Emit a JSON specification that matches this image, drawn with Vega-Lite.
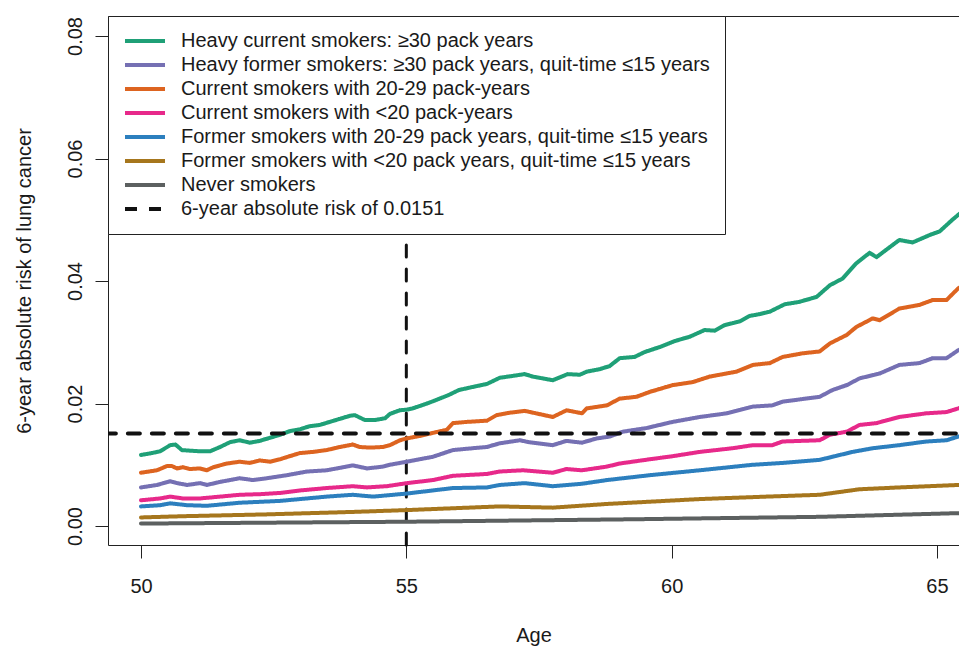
{
  "$schema": "https://vega.github.io/schema/vega-lite/v6.json",
  "width": 851,
  "height": 529,
  "autosize": {"type": "none"},
  "padding": {"left": 108, "top": 16, "right": 0, "bottom": 102},
  "background": "white",
  "config": {
    "view": {"stroke": null},
    "font": "Liberation Sans",
    "axis": {"grid": false, "domainColor": "#222222", "tickColor": "#222222", "labelColor": "#1a1a1a", "titleColor": "#1a1a1a", "labelFontSize": 20, "titleFontSize": 20, "titleFontWeight": "normal", "labelFlush": false, "tickSize": 13, "domainWidth": 1, "tickWidth": 1}
  },
  "datasets": {
    "risk": [
      {"series": "Heavy current smokers: ≥30 pack years", "age": 50.0, "risk": 0.0116},
      {"series": "Heavy current smokers: ≥30 pack years", "age": 50.2, "risk": 0.0119},
      {"series": "Heavy current smokers: ≥30 pack years", "age": 50.36, "risk": 0.0122},
      {"series": "Heavy current smokers: ≥30 pack years", "age": 50.55, "risk": 0.0132},
      {"series": "Heavy current smokers: ≥30 pack years", "age": 50.65, "risk": 0.0133},
      {"series": "Heavy current smokers: ≥30 pack years", "age": 50.77, "risk": 0.0124},
      {"series": "Heavy current smokers: ≥30 pack years", "age": 50.92, "risk": 0.0123},
      {"series": "Heavy current smokers: ≥30 pack years", "age": 51.11, "risk": 0.0122},
      {"series": "Heavy current smokers: ≥30 pack years", "age": 51.3, "risk": 0.0122},
      {"series": "Heavy current smokers: ≥30 pack years", "age": 51.49, "risk": 0.0129},
      {"series": "Heavy current smokers: ≥30 pack years", "age": 51.68, "risk": 0.0137},
      {"series": "Heavy current smokers: ≥30 pack years", "age": 51.86, "risk": 0.014},
      {"series": "Heavy current smokers: ≥30 pack years", "age": 52.05, "risk": 0.0136},
      {"series": "Heavy current smokers: ≥30 pack years", "age": 52.24, "risk": 0.0139},
      {"series": "Heavy current smokers: ≥30 pack years", "age": 52.43, "risk": 0.0144},
      {"series": "Heavy current smokers: ≥30 pack years", "age": 52.62, "risk": 0.0149},
      {"series": "Heavy current smokers: ≥30 pack years", "age": 52.81, "risk": 0.0155},
      {"series": "Heavy current smokers: ≥30 pack years", "age": 53.0, "risk": 0.0158},
      {"series": "Heavy current smokers: ≥30 pack years", "age": 53.18, "risk": 0.0163},
      {"series": "Heavy current smokers: ≥30 pack years", "age": 53.37, "risk": 0.0165},
      {"series": "Heavy current smokers: ≥30 pack years", "age": 53.56, "risk": 0.017},
      {"series": "Heavy current smokers: ≥30 pack years", "age": 53.75, "risk": 0.0175},
      {"series": "Heavy current smokers: ≥30 pack years", "age": 53.94, "risk": 0.018},
      {"series": "Heavy current smokers: ≥30 pack years", "age": 54.03, "risk": 0.0181},
      {"series": "Heavy current smokers: ≥30 pack years", "age": 54.22, "risk": 0.0173},
      {"series": "Heavy current smokers: ≥30 pack years", "age": 54.41, "risk": 0.0173},
      {"series": "Heavy current smokers: ≥30 pack years", "age": 54.6, "risk": 0.0176},
      {"series": "Heavy current smokers: ≥30 pack years", "age": 54.69, "risk": 0.0183},
      {"series": "Heavy current smokers: ≥30 pack years", "age": 54.88, "risk": 0.0189},
      {"series": "Heavy current smokers: ≥30 pack years", "age": 55.01, "risk": 0.019},
      {"series": "Heavy current smokers: ≥30 pack years", "age": 55.12, "risk": 0.0192},
      {"series": "Heavy current smokers: ≥30 pack years", "age": 55.39, "risk": 0.02},
      {"series": "Heavy current smokers: ≥30 pack years", "age": 55.57, "risk": 0.0206},
      {"series": "Heavy current smokers: ≥30 pack years", "age": 55.8, "risk": 0.0214},
      {"series": "Heavy current smokers: ≥30 pack years", "age": 55.99, "risk": 0.0222},
      {"series": "Heavy current smokers: ≥30 pack years", "age": 56.25, "risk": 0.0227},
      {"series": "Heavy current smokers: ≥30 pack years", "age": 56.52, "risk": 0.0232},
      {"series": "Heavy current smokers: ≥30 pack years", "age": 56.76, "risk": 0.0242},
      {"series": "Heavy current smokers: ≥30 pack years", "age": 57.0, "risk": 0.0245},
      {"series": "Heavy current smokers: ≥30 pack years", "age": 57.23, "risk": 0.0248},
      {"series": "Heavy current smokers: ≥30 pack years", "age": 57.38, "risk": 0.0244},
      {"series": "Heavy current smokers: ≥30 pack years", "age": 57.76, "risk": 0.0238},
      {"series": "Heavy current smokers: ≥30 pack years", "age": 58.04, "risk": 0.0248},
      {"series": "Heavy current smokers: ≥30 pack years", "age": 58.27, "risk": 0.0247},
      {"series": "Heavy current smokers: ≥30 pack years", "age": 58.4, "risk": 0.0252},
      {"series": "Heavy current smokers: ≥30 pack years", "age": 58.64, "risk": 0.0256},
      {"series": "Heavy current smokers: ≥30 pack years", "age": 58.83, "risk": 0.0261},
      {"series": "Heavy current smokers: ≥30 pack years", "age": 59.02, "risk": 0.0274},
      {"series": "Heavy current smokers: ≥30 pack years", "age": 59.3, "risk": 0.0276},
      {"series": "Heavy current smokers: ≥30 pack years", "age": 59.49, "risk": 0.0284},
      {"series": "Heavy current smokers: ≥30 pack years", "age": 59.77, "risk": 0.0292},
      {"series": "Heavy current smokers: ≥30 pack years", "age": 60.06, "risk": 0.0302},
      {"series": "Heavy current smokers: ≥30 pack years", "age": 60.34, "risk": 0.0309},
      {"series": "Heavy current smokers: ≥30 pack years", "age": 60.62, "risk": 0.032},
      {"series": "Heavy current smokers: ≥30 pack years", "age": 60.81, "risk": 0.0319},
      {"series": "Heavy current smokers: ≥30 pack years", "age": 61.0, "risk": 0.0328},
      {"series": "Heavy current smokers: ≥30 pack years", "age": 61.28, "risk": 0.0334},
      {"series": "Heavy current smokers: ≥30 pack years", "age": 61.47, "risk": 0.0343},
      {"series": "Heavy current smokers: ≥30 pack years", "age": 61.66, "risk": 0.0346},
      {"series": "Heavy current smokers: ≥30 pack years", "age": 61.85, "risk": 0.035},
      {"series": "Heavy current smokers: ≥30 pack years", "age": 62.13, "risk": 0.0362},
      {"series": "Heavy current smokers: ≥30 pack years", "age": 62.41, "risk": 0.0366},
      {"series": "Heavy current smokers: ≥30 pack years", "age": 62.73, "risk": 0.0374},
      {"series": "Heavy current smokers: ≥30 pack years", "age": 62.98, "risk": 0.0393},
      {"series": "Heavy current smokers: ≥30 pack years", "age": 63.22, "risk": 0.0404},
      {"series": "Heavy current smokers: ≥30 pack years", "age": 63.48, "risk": 0.0429},
      {"series": "Heavy current smokers: ≥30 pack years", "age": 63.73, "risk": 0.0446},
      {"series": "Heavy current smokers: ≥30 pack years", "age": 63.86, "risk": 0.0439},
      {"series": "Heavy current smokers: ≥30 pack years", "age": 64.29, "risk": 0.0467},
      {"series": "Heavy current smokers: ≥30 pack years", "age": 64.54, "risk": 0.0463},
      {"series": "Heavy current smokers: ≥30 pack years", "age": 64.86, "risk": 0.0475},
      {"series": "Heavy current smokers: ≥30 pack years", "age": 65.05, "risk": 0.0481},
      {"series": "Heavy current smokers: ≥30 pack years", "age": 65.29, "risk": 0.05},
      {"series": "Heavy current smokers: ≥30 pack years", "age": 65.4, "risk": 0.0508},
      {"series": "Heavy current smokers: ≥30 pack years", "age": 65.5, "risk": 0.0515},

      {"series": "Heavy former smokers: ≥30 pack years, quit-time ≤15 years", "age": 50.0, "risk": 0.0063},
      {"series": "Heavy former smokers: ≥30 pack years, quit-time ≤15 years", "age": 50.3, "risk": 0.0067},
      {"series": "Heavy former smokers: ≥30 pack years, quit-time ≤15 years", "age": 50.55, "risk": 0.0073},
      {"series": "Heavy former smokers: ≥30 pack years, quit-time ≤15 years", "age": 50.68, "risk": 0.007},
      {"series": "Heavy former smokers: ≥30 pack years, quit-time ≤15 years", "age": 50.87, "risk": 0.0067},
      {"series": "Heavy former smokers: ≥30 pack years, quit-time ≤15 years", "age": 51.11, "risk": 0.007},
      {"series": "Heavy former smokers: ≥30 pack years, quit-time ≤15 years", "age": 51.24, "risk": 0.0067},
      {"series": "Heavy former smokers: ≥30 pack years, quit-time ≤15 years", "age": 51.49, "risk": 0.0072},
      {"series": "Heavy former smokers: ≥30 pack years, quit-time ≤15 years", "age": 51.86, "risk": 0.0078},
      {"series": "Heavy former smokers: ≥30 pack years, quit-time ≤15 years", "age": 52.11, "risk": 0.0075},
      {"series": "Heavy former smokers: ≥30 pack years, quit-time ≤15 years", "age": 52.37, "risk": 0.0078},
      {"series": "Heavy former smokers: ≥30 pack years, quit-time ≤15 years", "age": 52.75, "risk": 0.0083},
      {"series": "Heavy former smokers: ≥30 pack years, quit-time ≤15 years", "age": 53.13, "risk": 0.0089},
      {"series": "Heavy former smokers: ≥30 pack years, quit-time ≤15 years", "age": 53.5, "risk": 0.0091},
      {"series": "Heavy former smokers: ≥30 pack years, quit-time ≤15 years", "age": 53.75, "risk": 0.0095},
      {"series": "Heavy former smokers: ≥30 pack years, quit-time ≤15 years", "age": 53.99, "risk": 0.0099},
      {"series": "Heavy former smokers: ≥30 pack years, quit-time ≤15 years", "age": 54.26, "risk": 0.0094},
      {"series": "Heavy former smokers: ≥30 pack years, quit-time ≤15 years", "age": 54.56, "risk": 0.0097},
      {"series": "Heavy former smokers: ≥30 pack years, quit-time ≤15 years", "age": 54.69, "risk": 0.01},
      {"series": "Heavy former smokers: ≥30 pack years, quit-time ≤15 years", "age": 55.01, "risk": 0.0105},
      {"series": "Heavy former smokers: ≥30 pack years, quit-time ≤15 years", "age": 55.25, "risk": 0.0109},
      {"series": "Heavy former smokers: ≥30 pack years, quit-time ≤15 years", "age": 55.5, "risk": 0.0113},
      {"series": "Heavy former smokers: ≥30 pack years, quit-time ≤15 years", "age": 55.88, "risk": 0.0124},
      {"series": "Heavy former smokers: ≥30 pack years, quit-time ≤15 years", "age": 56.25, "risk": 0.0127},
      {"series": "Heavy former smokers: ≥30 pack years, quit-time ≤15 years", "age": 56.52, "risk": 0.0129},
      {"series": "Heavy former smokers: ≥30 pack years, quit-time ≤15 years", "age": 56.76, "risk": 0.0135},
      {"series": "Heavy former smokers: ≥30 pack years, quit-time ≤15 years", "age": 57.14, "risk": 0.014},
      {"series": "Heavy former smokers: ≥30 pack years, quit-time ≤15 years", "age": 57.3, "risk": 0.0137},
      {"series": "Heavy former smokers: ≥30 pack years, quit-time ≤15 years", "age": 57.76, "risk": 0.0132},
      {"series": "Heavy former smokers: ≥30 pack years, quit-time ≤15 years", "age": 58.02, "risk": 0.0139},
      {"series": "Heavy former smokers: ≥30 pack years, quit-time ≤15 years", "age": 58.31, "risk": 0.0136},
      {"series": "Heavy former smokers: ≥30 pack years, quit-time ≤15 years", "age": 58.59, "risk": 0.0143},
      {"series": "Heavy former smokers: ≥30 pack years, quit-time ≤15 years", "age": 58.83, "risk": 0.0146},
      {"series": "Heavy former smokers: ≥30 pack years, quit-time ≤15 years", "age": 59.08, "risk": 0.0154},
      {"series": "Heavy former smokers: ≥30 pack years, quit-time ≤15 years", "age": 59.53, "risk": 0.016},
      {"series": "Heavy former smokers: ≥30 pack years, quit-time ≤15 years", "age": 60.02, "risk": 0.017},
      {"series": "Heavy former smokers: ≥30 pack years, quit-time ≤15 years", "age": 60.53, "risk": 0.0178},
      {"series": "Heavy former smokers: ≥30 pack years, quit-time ≤15 years", "age": 61.04, "risk": 0.0184},
      {"series": "Heavy former smokers: ≥30 pack years, quit-time ≤15 years", "age": 61.53, "risk": 0.0195},
      {"series": "Heavy former smokers: ≥30 pack years, quit-time ≤15 years", "age": 61.9, "risk": 0.0197},
      {"series": "Heavy former smokers: ≥30 pack years, quit-time ≤15 years", "age": 62.09, "risk": 0.0203},
      {"series": "Heavy former smokers: ≥30 pack years, quit-time ≤15 years", "age": 62.79, "risk": 0.0211},
      {"series": "Heavy former smokers: ≥30 pack years, quit-time ≤15 years", "age": 63.03, "risk": 0.0222},
      {"series": "Heavy former smokers: ≥30 pack years, quit-time ≤15 years", "age": 63.3, "risk": 0.023},
      {"series": "Heavy former smokers: ≥30 pack years, quit-time ≤15 years", "age": 63.54, "risk": 0.0241},
      {"series": "Heavy former smokers: ≥30 pack years, quit-time ≤15 years", "age": 63.92, "risk": 0.0249},
      {"series": "Heavy former smokers: ≥30 pack years, quit-time ≤15 years", "age": 64.29, "risk": 0.0263},
      {"series": "Heavy former smokers: ≥30 pack years, quit-time ≤15 years", "age": 64.67, "risk": 0.0266},
      {"series": "Heavy former smokers: ≥30 pack years, quit-time ≤15 years", "age": 64.92, "risk": 0.0274},
      {"series": "Heavy former smokers: ≥30 pack years, quit-time ≤15 years", "age": 65.18, "risk": 0.0274},
      {"series": "Heavy former smokers: ≥30 pack years, quit-time ≤15 years", "age": 65.4, "risk": 0.0287},
      {"series": "Heavy former smokers: ≥30 pack years, quit-time ≤15 years", "age": 65.5, "risk": 0.0291},

      {"series": "Current smokers with 20-29 pack-years", "age": 50.0, "risk": 0.0087},
      {"series": "Current smokers with 20-29 pack-years", "age": 50.3, "risk": 0.0091},
      {"series": "Current smokers with 20-29 pack-years", "age": 50.49, "risk": 0.0098},
      {"series": "Current smokers with 20-29 pack-years", "age": 50.58, "risk": 0.0098},
      {"series": "Current smokers with 20-29 pack-years", "age": 50.68, "risk": 0.0094},
      {"series": "Current smokers with 20-29 pack-years", "age": 50.79, "risk": 0.0096},
      {"series": "Current smokers with 20-29 pack-years", "age": 50.92, "risk": 0.0093},
      {"series": "Current smokers with 20-29 pack-years", "age": 51.11, "risk": 0.0094},
      {"series": "Current smokers with 20-29 pack-years", "age": 51.24, "risk": 0.0091},
      {"series": "Current smokers with 20-29 pack-years", "age": 51.36, "risk": 0.0096},
      {"series": "Current smokers with 20-29 pack-years", "age": 51.62, "risk": 0.0102},
      {"series": "Current smokers with 20-29 pack-years", "age": 51.86, "risk": 0.0105},
      {"series": "Current smokers with 20-29 pack-years", "age": 52.05, "risk": 0.0103},
      {"series": "Current smokers with 20-29 pack-years", "age": 52.24, "risk": 0.0107},
      {"series": "Current smokers with 20-29 pack-years", "age": 52.43, "risk": 0.0105},
      {"series": "Current smokers with 20-29 pack-years", "age": 52.62, "risk": 0.0109},
      {"series": "Current smokers with 20-29 pack-years", "age": 52.99, "risk": 0.0119},
      {"series": "Current smokers with 20-29 pack-years", "age": 53.24, "risk": 0.0121},
      {"series": "Current smokers with 20-29 pack-years", "age": 53.5, "risk": 0.0124},
      {"series": "Current smokers with 20-29 pack-years", "age": 53.75, "risk": 0.0129},
      {"series": "Current smokers with 20-29 pack-years", "age": 53.99, "risk": 0.0133},
      {"series": "Current smokers with 20-29 pack-years", "age": 54.12, "risk": 0.0129},
      {"series": "Current smokers with 20-29 pack-years", "age": 54.31, "risk": 0.0128},
      {"series": "Current smokers with 20-29 pack-years", "age": 54.56, "risk": 0.0129},
      {"series": "Current smokers with 20-29 pack-years", "age": 54.69, "risk": 0.0132},
      {"series": "Current smokers with 20-29 pack-years", "age": 54.88, "risk": 0.014},
      {"series": "Current smokers with 20-29 pack-years", "age": 55.01, "risk": 0.0143},
      {"series": "Current smokers with 20-29 pack-years", "age": 55.25, "risk": 0.0147},
      {"series": "Current smokers with 20-29 pack-years", "age": 55.5, "risk": 0.0152},
      {"series": "Current smokers with 20-29 pack-years", "age": 55.76, "risk": 0.0157},
      {"series": "Current smokers with 20-29 pack-years", "age": 55.88, "risk": 0.0168},
      {"series": "Current smokers with 20-29 pack-years", "age": 56.14, "risk": 0.017},
      {"series": "Current smokers with 20-29 pack-years", "age": 56.52, "risk": 0.0172},
      {"series": "Current smokers with 20-29 pack-years", "age": 56.7, "risk": 0.0181},
      {"series": "Current smokers with 20-29 pack-years", "age": 56.95, "risk": 0.0185},
      {"series": "Current smokers with 20-29 pack-years", "age": 57.23, "risk": 0.0188},
      {"series": "Current smokers with 20-29 pack-years", "age": 57.76, "risk": 0.0178},
      {"series": "Current smokers with 20-29 pack-years", "age": 58.02, "risk": 0.0189},
      {"series": "Current smokers with 20-29 pack-years", "age": 58.31, "risk": 0.0184},
      {"series": "Current smokers with 20-29 pack-years", "age": 58.4, "risk": 0.0192},
      {"series": "Current smokers with 20-29 pack-years", "age": 58.78, "risk": 0.0197},
      {"series": "Current smokers with 20-29 pack-years", "age": 59.02, "risk": 0.0208},
      {"series": "Current smokers with 20-29 pack-years", "age": 59.34, "risk": 0.0211},
      {"series": "Current smokers with 20-29 pack-years", "age": 59.59, "risk": 0.0219},
      {"series": "Current smokers with 20-29 pack-years", "age": 60.02, "risk": 0.023},
      {"series": "Current smokers with 20-29 pack-years", "age": 60.4, "risk": 0.0235},
      {"series": "Current smokers with 20-29 pack-years", "age": 60.72, "risk": 0.0244},
      {"series": "Current smokers with 20-29 pack-years", "age": 61.22, "risk": 0.0252},
      {"series": "Current smokers with 20-29 pack-years", "age": 61.53, "risk": 0.0263},
      {"series": "Current smokers with 20-29 pack-years", "age": 61.85, "risk": 0.0266},
      {"series": "Current smokers with 20-29 pack-years", "age": 62.09, "risk": 0.0276},
      {"series": "Current smokers with 20-29 pack-years", "age": 62.47, "risk": 0.0282},
      {"series": "Current smokers with 20-29 pack-years", "age": 62.79, "risk": 0.0285},
      {"series": "Current smokers with 20-29 pack-years", "age": 62.98, "risk": 0.0298},
      {"series": "Current smokers with 20-29 pack-years", "age": 63.3, "risk": 0.0312},
      {"series": "Current smokers with 20-29 pack-years", "age": 63.48, "risk": 0.0325},
      {"series": "Current smokers with 20-29 pack-years", "age": 63.79, "risk": 0.0339},
      {"series": "Current smokers with 20-29 pack-years", "age": 63.92, "risk": 0.0336},
      {"series": "Current smokers with 20-29 pack-years", "age": 64.29, "risk": 0.0355},
      {"series": "Current smokers with 20-29 pack-years", "age": 64.67, "risk": 0.0361},
      {"series": "Current smokers with 20-29 pack-years", "age": 64.92, "risk": 0.0369},
      {"series": "Current smokers with 20-29 pack-years", "age": 65.18, "risk": 0.0369},
      {"series": "Current smokers with 20-29 pack-years", "age": 65.4, "risk": 0.0388},
      {"series": "Current smokers with 20-29 pack-years", "age": 65.5, "risk": 0.0393},

      {"series": "Current smokers with <20 pack-years", "age": 50.0, "risk": 0.0042},
      {"series": "Current smokers with <20 pack-years", "age": 50.36, "risk": 0.0045},
      {"series": "Current smokers with <20 pack-years", "age": 50.55, "risk": 0.0048},
      {"series": "Current smokers with <20 pack-years", "age": 50.79, "risk": 0.0045},
      {"series": "Current smokers with <20 pack-years", "age": 51.11, "risk": 0.0045},
      {"series": "Current smokers with <20 pack-years", "age": 51.49, "risk": 0.0048},
      {"series": "Current smokers with <20 pack-years", "age": 51.86, "risk": 0.0051},
      {"series": "Current smokers with <20 pack-years", "age": 52.24, "risk": 0.0052},
      {"series": "Current smokers with <20 pack-years", "age": 52.62, "risk": 0.0054},
      {"series": "Current smokers with <20 pack-years", "age": 52.99, "risk": 0.0058},
      {"series": "Current smokers with <20 pack-years", "age": 53.5, "risk": 0.0062},
      {"series": "Current smokers with <20 pack-years", "age": 53.99, "risk": 0.0065},
      {"series": "Current smokers with <20 pack-years", "age": 54.26, "risk": 0.0063},
      {"series": "Current smokers with <20 pack-years", "age": 54.63, "risk": 0.0065},
      {"series": "Current smokers with <20 pack-years", "age": 55.01, "risk": 0.007},
      {"series": "Current smokers with <20 pack-years", "age": 55.5, "risk": 0.0075},
      {"series": "Current smokers with <20 pack-years", "age": 55.88, "risk": 0.0082},
      {"series": "Current smokers with <20 pack-years", "age": 56.52, "risk": 0.0085},
      {"series": "Current smokers with <20 pack-years", "age": 56.76, "risk": 0.0089},
      {"series": "Current smokers with <20 pack-years", "age": 57.2, "risk": 0.0091},
      {"series": "Current smokers with <20 pack-years", "age": 57.76, "risk": 0.0087},
      {"series": "Current smokers with <20 pack-years", "age": 58.02, "risk": 0.0093},
      {"series": "Current smokers with <20 pack-years", "age": 58.31, "risk": 0.0091},
      {"series": "Current smokers with <20 pack-years", "age": 58.78, "risk": 0.0097},
      {"series": "Current smokers with <20 pack-years", "age": 59.02, "risk": 0.0102},
      {"series": "Current smokers with <20 pack-years", "age": 59.59, "risk": 0.0109},
      {"series": "Current smokers with <20 pack-years", "age": 60.02, "risk": 0.0114},
      {"series": "Current smokers with <20 pack-years", "age": 60.53, "risk": 0.0121},
      {"series": "Current smokers with <20 pack-years", "age": 61.15, "risk": 0.0127},
      {"series": "Current smokers with <20 pack-years", "age": 61.53, "risk": 0.0132},
      {"series": "Current smokers with <20 pack-years", "age": 61.9, "risk": 0.0132},
      {"series": "Current smokers with <20 pack-years", "age": 62.09, "risk": 0.0138},
      {"series": "Current smokers with <20 pack-years", "age": 62.79, "risk": 0.014},
      {"series": "Current smokers with <20 pack-years", "age": 62.98, "risk": 0.0149},
      {"series": "Current smokers with <20 pack-years", "age": 63.3, "risk": 0.0154},
      {"series": "Current smokers with <20 pack-years", "age": 63.54, "risk": 0.0165},
      {"series": "Current smokers with <20 pack-years", "age": 63.86, "risk": 0.0168},
      {"series": "Current smokers with <20 pack-years", "age": 64.29, "risk": 0.0178},
      {"series": "Current smokers with <20 pack-years", "age": 64.8, "risk": 0.0184},
      {"series": "Current smokers with <20 pack-years", "age": 65.18, "risk": 0.0186},
      {"series": "Current smokers with <20 pack-years", "age": 65.4, "risk": 0.0192},
      {"series": "Current smokers with <20 pack-years", "age": 65.5, "risk": 0.0195},

      {"series": "Former smokers with 20-29 pack years, quit-time ≤15 years", "age": 50.0, "risk": 0.0032},
      {"series": "Former smokers with 20-29 pack years, quit-time ≤15 years", "age": 50.36, "risk": 0.0034},
      {"series": "Former smokers with 20-29 pack years, quit-time ≤15 years", "age": 50.55, "risk": 0.0037},
      {"series": "Former smokers with 20-29 pack years, quit-time ≤15 years", "age": 50.87, "risk": 0.0034},
      {"series": "Former smokers with 20-29 pack years, quit-time ≤15 years", "age": 51.24, "risk": 0.0033},
      {"series": "Former smokers with 20-29 pack years, quit-time ≤15 years", "age": 51.86, "risk": 0.0038},
      {"series": "Former smokers with 20-29 pack years, quit-time ≤15 years", "age": 52.62, "risk": 0.0041},
      {"series": "Former smokers with 20-29 pack years, quit-time ≤15 years", "age": 53.5, "risk": 0.0048},
      {"series": "Former smokers with 20-29 pack years, quit-time ≤15 years", "age": 53.99, "risk": 0.0051},
      {"series": "Former smokers with 20-29 pack years, quit-time ≤15 years", "age": 54.37, "risk": 0.0048},
      {"series": "Former smokers with 20-29 pack years, quit-time ≤15 years", "age": 54.63, "risk": 0.005},
      {"series": "Former smokers with 20-29 pack years, quit-time ≤15 years", "age": 55.01, "risk": 0.0053},
      {"series": "Former smokers with 20-29 pack years, quit-time ≤15 years", "age": 55.88, "risk": 0.0062},
      {"series": "Former smokers with 20-29 pack years, quit-time ≤15 years", "age": 56.52, "risk": 0.0063},
      {"series": "Former smokers with 20-29 pack years, quit-time ≤15 years", "age": 56.76, "risk": 0.0067},
      {"series": "Former smokers with 20-29 pack years, quit-time ≤15 years", "age": 57.23, "risk": 0.007},
      {"series": "Former smokers with 20-29 pack years, quit-time ≤15 years", "age": 57.76, "risk": 0.0065},
      {"series": "Former smokers with 20-29 pack years, quit-time ≤15 years", "age": 58.31, "risk": 0.0069},
      {"series": "Former smokers with 20-29 pack years, quit-time ≤15 years", "age": 58.78, "risk": 0.0075},
      {"series": "Former smokers with 20-29 pack years, quit-time ≤15 years", "age": 59.59, "risk": 0.0083},
      {"series": "Former smokers with 20-29 pack years, quit-time ≤15 years", "age": 60.53, "risk": 0.0091},
      {"series": "Former smokers with 20-29 pack years, quit-time ≤15 years", "age": 61.53, "risk": 0.01},
      {"series": "Former smokers with 20-29 pack years, quit-time ≤15 years", "age": 62.09, "risk": 0.0103},
      {"series": "Former smokers with 20-29 pack years, quit-time ≤15 years", "age": 62.79, "risk": 0.0108},
      {"series": "Former smokers with 20-29 pack years, quit-time ≤15 years", "age": 63.03, "risk": 0.0113},
      {"series": "Former smokers with 20-29 pack years, quit-time ≤15 years", "age": 63.41, "risk": 0.0121},
      {"series": "Former smokers with 20-29 pack years, quit-time ≤15 years", "age": 63.79, "risk": 0.0127},
      {"series": "Former smokers with 20-29 pack years, quit-time ≤15 years", "age": 64.29, "risk": 0.0132},
      {"series": "Former smokers with 20-29 pack years, quit-time ≤15 years", "age": 64.8, "risk": 0.0138},
      {"series": "Former smokers with 20-29 pack years, quit-time ≤15 years", "age": 65.18, "risk": 0.014},
      {"series": "Former smokers with 20-29 pack years, quit-time ≤15 years", "age": 65.4, "risk": 0.0146},
      {"series": "Former smokers with 20-29 pack years, quit-time ≤15 years", "age": 65.5, "risk": 0.0148},

      {"series": "Former smokers with <20 pack years, quit-time ≤15 years", "age": 50.0, "risk": 0.0014},
      {"series": "Former smokers with <20 pack years, quit-time ≤15 years", "age": 50.79, "risk": 0.0016},
      {"series": "Former smokers with <20 pack years, quit-time ≤15 years", "age": 52.37, "risk": 0.0019},
      {"series": "Former smokers with <20 pack years, quit-time ≤15 years", "age": 53.99, "risk": 0.0023},
      {"series": "Former smokers with <20 pack years, quit-time ≤15 years", "age": 55.01, "risk": 0.0026},
      {"series": "Former smokers with <20 pack years, quit-time ≤15 years", "age": 55.88, "risk": 0.0029},
      {"series": "Former smokers with <20 pack years, quit-time ≤15 years", "age": 56.76, "risk": 0.0032},
      {"series": "Former smokers with <20 pack years, quit-time ≤15 years", "age": 57.76, "risk": 0.003},
      {"series": "Former smokers with <20 pack years, quit-time ≤15 years", "age": 58.78, "risk": 0.0036},
      {"series": "Former smokers with <20 pack years, quit-time ≤15 years", "age": 60.53, "risk": 0.0044},
      {"series": "Former smokers with <20 pack years, quit-time ≤15 years", "age": 61.79, "risk": 0.0048},
      {"series": "Former smokers with <20 pack years, quit-time ≤15 years", "age": 62.79, "risk": 0.0051},
      {"series": "Former smokers with <20 pack years, quit-time ≤15 years", "age": 63.54, "risk": 0.006},
      {"series": "Former smokers with <20 pack years, quit-time ≤15 years", "age": 64.29, "risk": 0.0063},
      {"series": "Former smokers with <20 pack years, quit-time ≤15 years", "age": 65.4, "risk": 0.0067},
      {"series": "Former smokers with <20 pack years, quit-time ≤15 years", "age": 65.5, "risk": 0.0068},

      {"series": "Never smokers", "age": 50.0, "risk": 0.0004},
      {"series": "Never smokers", "age": 55.01, "risk": 0.0007},
      {"series": "Never smokers", "age": 57.14, "risk": 0.0009},
      {"series": "Never smokers", "age": 59.27, "risk": 0.0011},
      {"series": "Never smokers", "age": 62.79, "risk": 0.0015},
      {"series": "Never smokers", "age": 65.4, "risk": 0.0021},
      {"series": "Never smokers", "age": 65.5, "risk": 0.0021},

      {"series": "6-year absolute risk of 0.0151", "age": 49.3, "risk": 0.0151},
      {"series": "6-year absolute risk of 0.0151", "age": 65.5, "risk": 0.0151}
    ],
    "cutoff": [{"age": 55, "low": -0.0031, "high": 0.0478}]
  },
  "layer": [
    {
      "data": {"name": "cutoff"},
      "mark": {"type": "rule", "color": "#111111", "strokeWidth": 3, "strokeDash": [12, 12], "strokeCap": "round"},
      "encoding": {
        "x": {
          "field": "age", "type": "quantitative",
          "axis": {"orient": "top", "labels": false, "ticks": false, "domain": true, "title": null, "grid": false}
        },
        "y": {"field": "low", "type": "quantitative", "title": "6-year absolute risk of lung cancer"},
        "y2": {"field": "high"}
      }
    },
    {
      "data": {"name": "risk"},
      "mark": {"type": "line", "clip": true, "strokeWidth": 4, "strokeCap": "round", "strokeJoin": "round"},
      "encoding": {
        "x": {
          "field": "age", "type": "quantitative",
          "scale": {"domain": [49.378, 65.415], "nice": false, "zero": false},
          "axis": {"orient": "bottom", "values": [50, 55, 60, 65], "title": "Age", "labelPadding": 18, "titlePadding": 29}
        },
        "y": {
          "field": "risk", "type": "quantitative",
          "scale": {"domain": [-0.0031, 0.08327], "nice": false, "zero": false},
          "axis": {"values": [0, 0.02, 0.04, 0.06, 0.08], "format": ".2f", "labelAngle": -90, "labelAlign": "center", "labelBaseline": "alphabetic", "labelPadding": 14, "title": "6-year absolute risk of lung cancer", "titlePadding": 31}
        },
        "color": {
          "field": "series", "type": "nominal",
          "scale": {
            "domain": ["Heavy current smokers: ≥30 pack years", "Heavy former smokers: ≥30 pack years, quit-time ≤15 years", "Current smokers with 20-29 pack-years", "Current smokers with <20 pack-years", "Former smokers with 20-29 pack years, quit-time ≤15 years", "Former smokers with <20 pack years, quit-time ≤15 years", "Never smokers", "6-year absolute risk of 0.0151"],
            "range": ["#1FA077", "#7570B3", "#DD6420", "#E7298A", "#2C7FBE", "#A6761D", "#5C6060", "#111111"]
          },
          "legend": {
            "orient": "top-left", "offset": 0, "title": null, "labelFontSize": 20, "labelLimit": 1000, "labelColor": "#1a1a1a",
            "symbolType": "stroke", "symbolSize": 1600, "symbolStrokeWidth": 4, "clipHeight": 20, "rowPadding": 4,
            "padding": 15, "labelOffset": 14, "fillColor": "white", "strokeColor": "#222222", "zindex": 1
          }
        },
        "strokeDash": {
          "field": "series", "type": "nominal",
          "scale": {
            "domain": ["Heavy current smokers: ≥30 pack years", "Heavy former smokers: ≥30 pack years, quit-time ≤15 years", "Current smokers with 20-29 pack-years", "Current smokers with <20 pack-years", "Former smokers with 20-29 pack years, quit-time ≤15 years", "Former smokers with <20 pack years, quit-time ≤15 years", "Never smokers", "6-year absolute risk of 0.0151"],
            "range": [[1, 0], [1, 0], [1, 0], [1, 0], [1, 0], [1, 0], [1, 0], [12, 12]]
          }
        }
      }
    }
  ],
  "resolve": {"axis": {"x": "independent"}}
}
